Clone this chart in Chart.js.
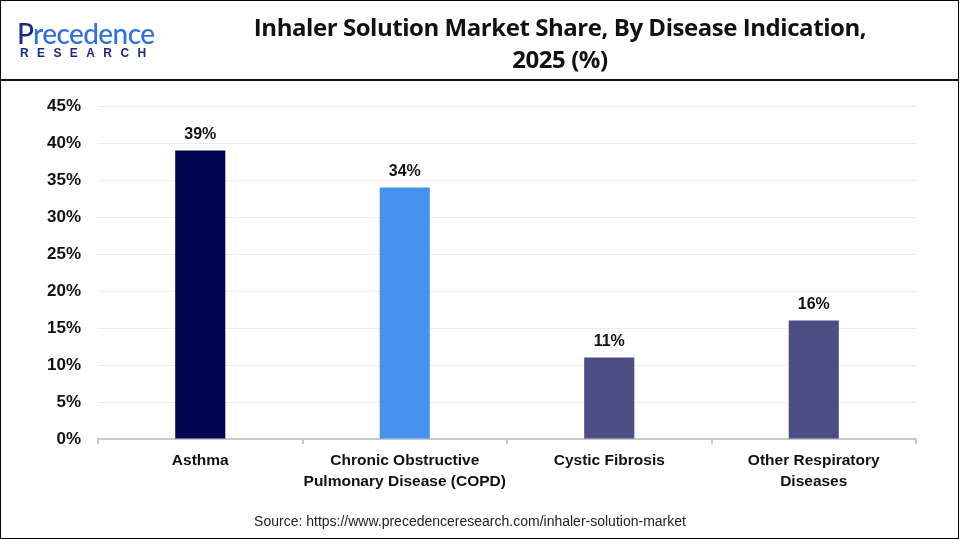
<!DOCTYPE html>
<html>
<head>
<meta charset="utf-8">
<script src="https://cdn.jsdelivr.net/npm/chart.js@4"></script>
<style>
  html, body { margin:0; padding:0; background:#fff; }
  #wrap { position:relative; width:960px; height:540px; overflow:hidden; background:#fff; }
  #frame { position:absolute; left:0; top:0; width:957px; height:537px; border:1.5px solid #000; box-sizing:content-box; pointer-events:none; }
  #hline { position:absolute; left:1px; top:79px; width:958px; height:2px; background:#0c0d3d; }
  #title { position:absolute; left:180px; width:760px; top:11px; text-align:center; font-family:"Open Sans",sans-serif; font-weight:bold; font-size:24px; letter-spacing:-0.45px; line-height:32px; color:#111; }
  #logo1 { position:absolute; left:17px; top:16px; font-family:"Lato","Open Sans",sans-serif; font-size:28px; font-weight:500; color:#1b2a8a; letter-spacing:-0.6px; }
  #logo1 span { color:#2f6fe0; }
  #logo2 { position:absolute; left:20px; top:46px; font-family:"Liberation Sans",sans-serif; font-size:12px; font-weight:bold; color:#1b2a8a; letter-spacing:8.4px; }
  #source { position:absolute; left:0; width:940px; top:513px; text-align:center; font-family:"Liberation Sans",sans-serif; font-size:14px; color:#222; }
  canvas { position:absolute; left:0; top:0; }
</style>
</head>
<body>
<div id="wrap">
  <canvas id="c" width="960" height="540"></canvas>
  <div id="hline"></div>
  <div id="title">Inhaler Solution Market Share, By Disease Indication,<br>2025 (%)</div>
  <div id="logo1">P<span>recedence</span></div>
  <div id="logo2">RESEARCH</div>
  <div id="source">Source: https://www.precedenceresearch.com/inhaler-solution-market</div>
  <div id="frame"></div>
</div>
<script>
const categories = [["Asthma"], ["Chronic Obstructive", "Pulmonary Disease (COPD)"], ["Cystic Fibrosis"], ["Other Respiratory", "Diseases"]];
const shareValues = [39, 34, 11, 16];
const barColors = ["#020650", "#4593ee", "#4b4e84", "#4b4e84"];
const yTicks = [0, 5, 10, 15, 20, 25, 30, 35, 40, 45];

const labelPlugin = {
  id: 'barLabels',
  afterDatasetsDraw(chart) {
    const ctx = chart.ctx;
    const meta = chart.getDatasetMeta(0);
    ctx.save();
    ctx.font = 'bold 16px "Liberation Sans", Arial, sans-serif';
    ctx.fillStyle = '#111';
    ctx.textAlign = 'center';
    ctx.textBaseline = 'bottom';
    meta.data.forEach((bar, i) => {
      ctx.fillText(shareValues[i] + '%', bar.x, bar.y - 8);
    });
    ctx.restore();
  }
};

new Chart(document.getElementById('c'), {
  type: 'bar',
  data: {
    labels: categories,
    datasets: [{
      data: shareValues,
      backgroundColor: barColors,
      borderWidth: 0,
      categoryPercentage: 1,
      barPercentage: 0.245
    }]
  },
  options: {
    responsive: false,
    animation: false,
    devicePixelRatio: 1,
    layout: { padding: { left: 0, right: 44, top: 106, bottom: 0 } },
    plugins: { legend: { display: false }, tooltip: { enabled: false } },
    scales: {
      x: {
        afterFit(s) { s.height = 101; },
        grid: { display: true, drawOnChartArea: false, drawTicks: true, tickLength: 5, offset: true, color: '#c8c8c8', lineWidth: 2 },
        border: { display: true, color: '#c8c8c8', width: 2 },
        ticks: { color: '#111', padding: 7, maxRotation: 0, autoSkip: false,
          font: { family: '"Liberation Sans", Arial, sans-serif', size: 15.5, weight: 'bold', lineHeight: 1.3 } }
      },
      y: {
        min: 0, max: 45,
        afterFit(s) { s.width = 98; },
        afterBuildTicks(s) { s.ticks = yTicks.map(v => ({ value: v })); },
        grid: { color: '#ebebeb', lineWidth: 1, drawTicks: false },
        border: { display: false },
        ticks: { color: '#111', padding: 17, callback: v => v + '%',
          font: { family: '"Liberation Sans", Arial, sans-serif', size: 17, weight: 'bold' } }
      }
    }
  },
  plugins: [labelPlugin]
});
</script>
</body>
</html>
